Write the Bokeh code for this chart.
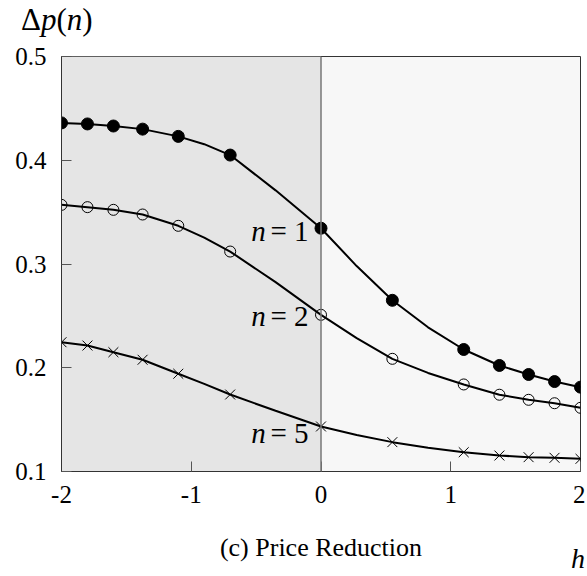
from bokeh.plotting import figure
from bokeh.models import Range1d, FixedTicker, BoxAnnotation, Span, Label, Div
from bokeh.layouts import column
from bokeh.embed import file_html
from bokeh.resources import INLINE

# ---- data ----
h_marks = [-2, -1.8, -1.6, -1.375, -1.1, -0.7, 0, 0.55, 1.1, 1.375, 1.6, 1.8, 2]
dp_n1 = [0.436, 0.435, 0.433, 0.430, 0.423, 0.405, 0.3345, 0.265, 0.2176, 0.2022, 0.1935, 0.1867, 0.1813]
dp_n2 = [0.357, 0.3548, 0.3522, 0.3477, 0.3368, 0.312, 0.251, 0.2086, 0.1839, 0.174, 0.1691, 0.1658, 0.1614]
dp_n5 = [0.2246, 0.2214, 0.2150, 0.2077, 0.1942, 0.1742, 0.1434, 0.1283, 0.1186, 0.1154, 0.1138, 0.1132, 0.1122]

# curves (markers plus a few extra points)
h_curve = [-2, -1.8, -1.6, -1.375, -1.1, -0.9, -0.7, -0.35, 0, 0.275, 0.55, 0.825, 1.1, 1.375, 1.6, 1.8, 2]
curve_n1 = [0.436, 0.435, 0.433, 0.430, 0.423, 0.4155, 0.405, 0.371, 0.3345, 0.298, 0.265, 0.239, 0.2176, 0.2022, 0.1935, 0.1867, 0.1813]
curve_n2 = [0.357, 0.3548, 0.3522, 0.3477, 0.3368, 0.3255, 0.312, 0.2825, 0.251, 0.2285, 0.2086, 0.195, 0.1839, 0.174, 0.1691, 0.1658, 0.1614]
curve_n5 = [0.2246, 0.2214, 0.2150, 0.2077, 0.1942, 0.1845, 0.1742, 0.1585, 0.1434, 0.1352, 0.1283, 0.123, 0.1186, 0.1154, 0.1138, 0.1132, 0.1122]

x_ticks = [-2, -1, 0, 1, 2]
x_tick_labels = ["-2", "-1", "0", "1", "2"]
y_ticks = [0.1, 0.2, 0.3, 0.4, 0.5]
y_tick_labels = ["0.1", "0.2", "0.3", "0.4", "0.5"]

series_labels = ["1", "2", "5"]
series_label_y = [0.3315, 0.2495, 0.1368]

title_text = "(c) Price Reduction"
x_axis_name = "h"

FONT = "'Liberation Serif', serif"
W = 585

top = Div(text="<div style=\"font-family:'Liberation Serif',serif;font-size:31px;line-height:31px;"
               "padding-left:21px;padding-top:4px;color:black;white-space:nowrap\">"
               "&Delta;<i>p</i>(<i>n</i>)</div>",
          width=W, height=40, margin=(0, 0, 0, 0))

p = figure(width=W, height=480, output_backend="svg", toolbar_location=None,
           x_range=Range1d(-2, 2), y_range=Range1d(0.1, 0.5),
           min_border_left=61, min_border_right=5, min_border_top=16, min_border_bottom=49,
           margin=(0, 0, 0, 0))

p.background_fill_color = "#f7f7f7"
p.border_fill_color = "white"
p.outline_line_color = "#333333"
p.outline_line_width = 1
p.grid.visible = False

p.add_layout(BoxAnnotation(right=0, fill_color="#e5e5e5", fill_alpha=1.0, line_color=None, level="underlay"))
p.add_layout(Span(location=0, dimension="height", line_color="#777777", line_width=1.5))

for ax, ticks, labels in ((p.xaxis, x_ticks, x_tick_labels), (p.yaxis, y_ticks, y_tick_labels)):
    ax.ticker = FixedTicker(ticks=ticks)
    ax.major_label_overrides = {t: l for t, l in zip(ticks, labels)}
    ax.major_tick_in = 10
    ax.major_tick_out = 0
    ax.minor_tick_line_color = None
    ax.axis_line_color = "#333333"
    ax.major_tick_line_color = "#555555"
    ax.major_label_text_font = FONT
    ax.major_label_text_font_size = "25px"
    ax.major_label_text_color = "black"
p.xaxis.major_label_standoff = 14
p.yaxis.major_label_standoff = 15

for yc in (curve_n1, curve_n2, curve_n5):
    p.line(h_curve, yc, line_color="black", line_width=2)

p.scatter(h_marks, dp_n1, marker="circle", size=12, fill_color="black", line_color="black")
p.scatter(h_marks, dp_n2, marker="circle", size=11, fill_color=None, line_color="black", line_width=1)
p.scatter(h_marks, dp_n5, marker="x", size=14, line_color="black", line_width=1)

for lab, yy in zip(series_labels, series_label_y):
    p.add_layout(Label(x=-0.425, y=yy, text="n", text_font=FONT, text_font_style="italic",
                       text_font_size="29px", text_align="right", text_baseline="middle",
                       text_color="black"))
    p.add_layout(Label(x=-0.39, y=yy, text="= " + lab, text_font=FONT,
                       text_font_size="29px", text_align="left", text_baseline="middle",
                       text_color="black"))

bottom = Div(text="<div style=\"position:relative;width:%dpx;height:50px;font-family:'Liberation Serif',serif;"
                  "color:black;white-space:nowrap\">"
                  "<div style=\"position:absolute;left:0;width:642px;top:14px;text-align:center;"
                  "font-size:26px;line-height:28px\">%s</div>"
                  "<div style=\"position:absolute;left:571px;top:25px;font-size:28px;line-height:28px\">"
                  "<i>%s</i></div></div>" % (W, title_text, x_axis_name),
             width=W, height=50, margin=(0, 0, 0, 0))

layout = column(top, p, bottom, spacing=0, margin=(0, 0, 0, 0))

open("out.html", "w").write(file_html(layout, INLINE))
